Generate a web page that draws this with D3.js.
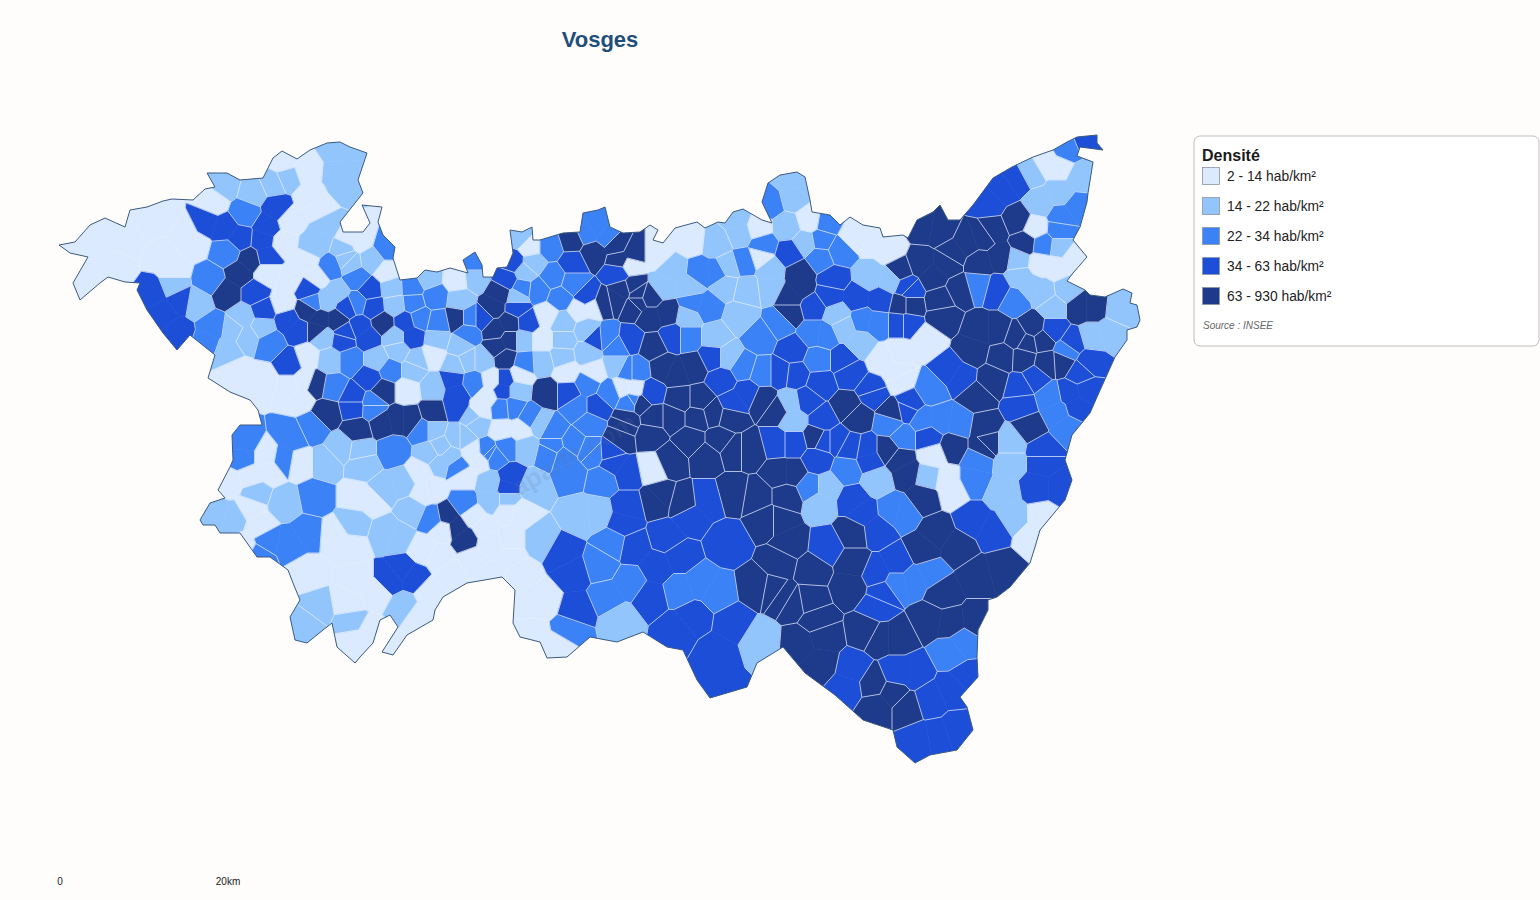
<!DOCTYPE html>
<html lang="fr">
<head>
<meta charset="utf-8">
<title>Vosges</title>
<script src="https://cdn.jsdelivr.net/npm/d3@7"></script>
<style>
  html, body { margin: 0; background: #fffdfb; }
  svg { display: block; font-family: "Liberation Sans", Arial, sans-serif; }
</style>
</head>
<body>
<svg id="map" width="1540" height="900"></svg>
<script>
const titleText = "Vosges";
const legendTitle = "Densité";
const legendLabels = ["2 - 14 hab/km²", "14 - 22 hab/km²", "22 - 34 hab/km²", "34 - 63 hab/km²", "63 - 930 hab/km²"];
const classColors = ["#dbeafe", "#93c5fd", "#3b82f6", "#1d4ed8", "#1e3a8a"];
const sourceText = "Source : INSEE";
const watermarkText = "aparte.com";
const scaleKm = [0, 20];

// department outline (map units)
const outline = [[59,245],[75,242],[90,225],[105,218],[125,227],[130,210],[147,207],[163,201],[172,199],[193,200],[205,189],[215,187],[207,173],[227,173],[240,180],[263,178],[273,158],[282,151],[297,159],[310,150],[327,143],[340,142],[350,147],[367,153],[358,180],[363,193],[340,222],[343,232],[363,232],[370,223],[362,205],[382,207],[378,222],[383,235],[395,247],[393,258],[400,280],[417,278],[425,270],[437,272],[450,268],[468,273],[463,260],[475,252],[482,265],[483,277],[493,277],[497,268],[507,267],[513,253],[510,230],[522,232],[532,227],[533,240],[540,240],[563,233],[580,232],[583,213],[598,210],[605,207],[610,227],[623,233],[640,232],[650,225],[658,230],[653,240],[663,243],[675,228],[697,222],[705,228],[718,222],[725,223],[733,212],[743,209],[762,220],[772,223],[762,202],[768,183],[780,175],[797,172],[805,177],[810,200],[812,212],[830,215],[840,225],[850,217],[863,225],[880,228],[883,237],[903,235],[908,238],[917,220],[933,212],[940,205],[948,220],[960,220],[973,205],[993,178],[1012,167],[1033,157],[1053,150],[1067,142],[1077,137],[1097,135],[1097,143],[1103,150],[1080,147],[1077,156],[1093,162],[1088,193],[1087,202],[1080,227],[1073,240],[1087,257],[1073,273],[1067,281],[1085,290],[1090,295],[1105,297],[1123,289],[1132,293],[1130,303],[1137,305],[1140,320],[1137,327],[1127,330],[1127,340],[1115,357],[1097,397],[1090,413],[1072,435],[1065,460],[1072,480],[1065,500],[1040,530],[1035,547],[1030,563],[1010,587],[997,597],[988,600],[988,610],[978,630],[977,657],[978,677],[960,697],[967,707],[973,730],[957,750],[930,755],[915,763],[897,747],[893,730],[863,720],[835,695],[805,673],[783,647],[757,663],[747,687],[710,698],[697,680],[683,650],[667,647],[643,632],[617,642],[590,637],[567,657],[547,658],[540,642],[520,637],[513,623],[515,590],[502,577],[467,583],[443,597],[435,610],[433,620],[407,635],[393,655],[382,652],[398,627],[390,615],[380,620],[373,643],[360,657],[355,663],[337,647],[332,623],[323,630],[307,643],[295,640],[290,617],[300,600],[293,583],[288,570],[270,557],[257,557],[240,533],[220,533],[215,525],[203,525],[200,520],[210,503],[225,498],[218,490],[230,467],[233,460],[232,435],[240,425],[262,425],[258,410],[250,400],[230,392],[208,378],[215,355],[190,335],[177,350],[163,333],[147,310],[137,290],[140,283],[125,282],[108,277],[100,283],[80,300],[73,283],[88,257],[70,253]];

// communes per density class: each entry lists the anchor points of one commune (x,y,x,y...)
const class0 = [[100,245,130,240],[93,273,117,267],[163,217,150,225],[193,243,185,232],[173,270,160,255],[213,202],[283,163],[267,273],[290,280,283,303],[317,277],[307,170,310,197],[290,220,317,207],[283,243,307,260],[307,357,305,380,300,398],[263,380,237,373],[290,387],[360,240,347,238],[387,272],[457,280],[530,247],[630,265],[580,310,592,307],[547,315],[407,390],[433,355],[492,380],[487,397,480,410],[520,375],[542,340],[567,372],[593,372],[623,388],[635,390],[503,430,520,430],[473,453],[267,457],[300,463],[250,477,270,470],[230,483,250,507],[260,527],[357,497,373,500],[350,547,335,535],[307,573],[357,580,377,593],[347,603],[353,640,370,633],[390,647],[417,617,430,593],[440,557,473,560],[490,543,510,557],[490,577,450,573],[443,530,483,527],[423,550],[423,493,420,473],[433,490,463,477],[480,460],[507,510,473,517],[652,468],[520,513,510,540],[530,600,543,600],[533,637,560,647],[520,573],[690,240,657,253],[758,228],[760,257],[810,220],[870,240,853,237,890,250],[883,360,897,373],[900,353,927,340],[900,380],[1060,167,1047,163],[1035,228],[1073,257,1057,267,1040,263],[933,455],[947,480,953,490],[1042,517,1033,537],[245,548]];
const class1 = [[225,185],[253,192],[273,183],[287,177],[173,285],[197,303],[243,317,247,337],[227,350,233,330],[262,327],[320,240,313,247,327,227],[338,173,337,150,343,183],[343,247,350,263],[327,300,337,293],[323,337],[330,360],[347,260],[372,260],[392,288],[395,305],[428,278],[475,278],[460,300],[520,237],[533,263],[525,272],[517,297],[395,337],[398,350],[377,360],[417,360],[437,340],[460,347],[455,365],[433,387],[413,370],[483,360],[467,360],[517,390],[523,340],[542,362],[563,323],[563,340],[587,330],[562,357],[587,353],[617,365],[540,423],[473,417],[463,437],[433,430],[440,447],[525,447],[360,450],[477,423],[342,447],[363,465],[325,463],[255,493],[285,503],[217,513,233,517],[353,523],[383,490,403,483],[413,510],[398,537,387,533],[318,608],[307,623],[350,622],[403,607],[450,457,440,463],[457,437,430,453],[490,483,492,500],[507,500],[533,487],[580,515,597,513],[540,540],[620,620],[760,640],[663,287,690,287,673,270],[717,243],[740,233,737,220],[728,267],[725,285],[747,290],[770,287,770,270],[793,197,790,180],[787,227],[805,243],[870,277,890,280],[837,315],[860,343,843,327],[688,317],[715,337],[740,317],[728,357],[790,403,793,420],[1030,173],[1060,193,1080,177,1040,203],[1060,247],[1018,260],[1030,287,1020,277,1043,293],[1067,290],[1053,307],[1120,310],[1093,337,1110,333],[1010,443],[1003,493,1010,463,1013,517],[928,477],[820,503,827,487],[877,480]];
const class2 = [[245,213],[227,252],[210,280],[213,327,207,343],[270,343],[330,267],[312,302],[333,387],[387,248],[357,278],[412,287],[413,303],[435,297],[475,262],[550,247],[597,227,587,233,607,235],[553,277],[573,283],[538,290],[522,288],[560,298],[357,303],[350,360],[390,370],[470,318],[438,322],[420,318],[468,333],[373,403],[473,383],[525,363],[607,337],[617,347],[577,407,587,383],[610,393],[627,370],[630,402],[590,423],[553,430],[530,417],[513,407],[502,408],[423,430],[487,452],[553,447],[573,443],[590,450],[393,450],[373,408],[313,427],[292,437,283,460],[243,443,242,457],[315,497],[290,543,307,533,267,540],[457,467],[463,503],[432,518],[488,453],[495,457],[507,447],[258,555],[550,453],[570,473,563,457],[593,453],[603,480],[600,565],[613,543,630,583,607,597],[570,630],[700,583,680,590,717,593],[700,273,717,273],[763,245],[745,262],[770,203],[827,223],[822,240],[820,258],[840,250],[863,320,877,323],[707,307,693,303],[688,337],[760,337],[780,323],[813,333,825,335],[818,360],[743,367],[762,373],[633,400],[637,370],[890,423],[1067,150],[1062,217,1077,207],[1060,230],[1043,245],[1015,300],[978,285],[1067,350],[1057,413,1050,397,1067,427],[930,390],[940,420,923,420,960,423],[903,437],[973,480,977,460],[952,652,963,643],[913,580,930,573,897,583],[810,487],[847,470],[903,512,893,510]];
const class3 = [[205,222,225,228,240,238],[267,227,277,208,263,240,267,256],[163,313,153,293,178,333,180,300],[255,293],[263,310],[288,320,298,330],[290,363],[308,290],[343,340],[370,290],[507,280],[513,262],[573,263],[618,273],[587,297],[517,308],[527,322],[482,318],[405,322,412,337],[360,327,368,337],[347,307,345,333],[373,307],[370,378],[353,397],[505,380,503,390],[457,393,453,380,457,407],[595,338],[630,340],[568,393],[597,407],[510,477,507,487],[613,463,627,473],[610,452],[353,407],[403,570,390,580,413,577],[573,573,563,553,577,610],[657,567,633,547,650,597,680,557],[690,517,707,500,667,537],[727,543],[677,630,693,617],[717,653,733,623,717,683],[627,507,623,523],[790,253],[833,280],[857,298,830,295,880,300],[813,307],[907,287],[900,323],[673,337],[713,357],[793,350],[843,360],[780,373],[796,375],[820,383],[850,373],[872,390],[650,393],[722,380],[733,403,747,393],[807,400],[823,420],[873,393],[907,410],[1003,190,990,203,1017,180],[1087,142],[997,290],[1053,330],[1072,343],[1090,362],[1080,373],[1020,387],[1035,378],[1070,393,1087,390,1077,407],[1022,405],[910,290],[907,323],[950,370,960,377],[910,403],[928,437],[1043,450],[1043,463,1037,487,1060,487],[993,530,973,520],[953,690,967,677,930,700],[937,737,920,740,957,730],[913,673,897,673],[853,670,847,687],[897,563,877,573],[883,593],[877,607],[827,547],[863,513,877,530,853,500],[817,460],[867,450,870,460],[850,447],[837,440],[823,440],[793,443],[777,443]];
const class4 = [[240,273,250,260,227,293],[320,320,307,310,337,320,317,330],[316,384],[383,390],[572,240],[593,253,617,245],[620,260,633,253],[603,303],[623,290,617,300],[633,307,637,293],[493,307,500,293],[495,330,510,323],[497,347,510,340],[505,358],[457,318],[383,323],[547,393],[397,420,383,423,410,420],[433,413],[357,430],[627,420],[620,438],[327,413],[447,515,457,528,465,538],[660,497,657,500],[683,503],[757,587],[773,590],[767,520],[707,457],[733,450],[733,493],[757,497],[800,287,800,273,790,297],[900,270],[902,305],[790,313],[653,347],[677,373,663,367,693,367],[700,400],[680,400],[763,400],[777,410],[847,407],[857,417],[893,413],[713,413],[730,417],[697,417],[673,417],[653,417],[640,403],[633,287],[650,317,637,303,667,313],[650,297],[940,230,923,227],[967,243,983,237,953,253],[993,230,1000,257,980,263],[1017,220],[1025,243],[960,290],[1080,307,1093,307],[1033,327],[1017,337],[1027,343],[1043,340],[1003,357],[1023,358],[1047,363],[1062,362],[993,380],[980,330,997,330,973,350],[943,317],[940,300],[910,305],[933,277,920,263,947,263],[887,450],[953,447],[983,427,983,447],[977,397],[1030,427],[987,443],[907,473,900,460,923,497],[937,533,923,550,957,547],[977,577,1003,570,943,593],[950,623,930,620,977,620],[907,707],[877,707,893,693],[873,683],[820,663,800,643,823,637],[880,637,897,637],[867,630],[817,620],[810,600],[853,563,850,587],[812,570],[793,603],[783,597,780,563],[790,543,780,520],[853,533],[787,497],[817,437],[793,473,780,473],[720,440],[750,450],[690,440],[670,460],[650,435],[625,425]];
const communesByClass = [class0, class1, class2, class3, class4];

const width = 1540, height = 900;
const svg = d3.select("#map");

// map units sit on a 1:1 grid with the page; 20 km measures 168 units
const x = d3.scaleLinear().domain([0, 1540]).range([0, width]);
const y = d3.scaleLinear().domain([0, 900]).range([0, height]);
const km = d3.scaleLinear().domain(scaleKm).range([60, 228]);

// flatten communes into anchor points
const anchors = [];
let communeId = 0;
communesByClass.forEach((communes, cls) => {
  communes.forEach((coords) => {
    for (let i = 0; i < coords.length; i += 2) {
      anchors.push({ x: coords[i], y: coords[i + 1], cls, commune: communeId });
    }
    communeId++;
  });
});

const delaunay = d3.Delaunay.from(anchors, (d) => x(d.x), (d) => y(d.y));
const voronoi = delaunay.voronoi([0, 0, width, height]);

const outlineLine = d3.line()
  .x((d) => x(d[0]))
  .y((d) => y(d[1]))
  .curve(d3.curveLinearClosed);

svg.append("defs").append("clipPath").attr("id", "dept")
  .append("path").attr("d", outlineLine(outline));

const mapG = svg.append("g").attr("clip-path", "url(#dept)");

// cells
mapG.selectAll("path.cell")
  .data(anchors)
  .join("path")
  .attr("class", "cell")
  .attr("d", (d, i) => voronoi.renderCell(i))
  .attr("fill", (d) => classColors[d.cls])
  .attr("stroke", (d) => classColors[d.cls])
  .attr("stroke-width", 0.6);

// borders only between different communes
const { halfedges, triangles } = delaunay;
const { circumcenters } = voronoi;
let borderPath = "";
for (let i = 0; i < halfedges.length; i++) {
  const j = halfedges[i];
  if (j < i) continue;
  if (anchors[triangles[i]].commune === anchors[triangles[j]].commune) continue;
  const ti = Math.floor(i / 3) * 2, tj = Math.floor(j / 3) * 2;
  borderPath += `M${circumcenters[ti]},${circumcenters[ti + 1]}L${circumcenters[tj]},${circumcenters[tj + 1]}`;
}
mapG.append("path")
  .attr("d", borderPath)
  .attr("fill", "none")
  .attr("stroke", "#e6efff")
  .attr("stroke-width", 0.8)
  .attr("stroke-opacity", 0.9);

svg.append("path")
  .attr("d", outlineLine(outline))
  .attr("fill", "none")
  .attr("stroke", "#3a5a80")
  .attr("stroke-width", 1);

// faint watermark over the map
svg.append("text")
  .attr("transform", "translate(518,497) rotate(-30)")
  .attr("font-size", 26).attr("font-weight", "bold")
  .attr("fill", "#64748b").attr("fill-opacity", 0.16)
  .text(watermarkText);

// title
svg.append("text")
  .attr("x", 600).attr("y", 47)
  .attr("text-anchor", "middle")
  .attr("font-size", 22).attr("font-weight", "bold")
  .attr("fill", "#1f4e79")
  .text(titleText);

// legend
const legend = svg.append("g");
legend.append("rect")
  .attr("x", 1194).attr("y", 136).attr("width", 345).attr("height", 210).attr("rx", 6)
  .attr("fill", "#ffffff").attr("stroke", "#bdbdbd").attr("stroke-width", 1);
legend.append("text")
  .attr("x", 1202).attr("y", 161)
  .attr("font-size", 16).attr("font-weight", "bold").attr("fill", "#1a1a1a")
  .text(legendTitle);

const legendY = d3.scalePoint().domain(legendLabels).range([176, 296]);
const rows = legend.selectAll("g.row").data(legendLabels).join("g").attr("class", "row")
  .attr("transform", (d) => `translate(0,${legendY(d)})`);
rows.append("rect")
  .attr("x", 1202.5).attr("y", -8.5).attr("width", 17).attr("height", 17)
  .attr("fill", (d, i) => classColors[i])
  .attr("stroke", "#8a94a6").attr("stroke-width", 0.8);
rows.append("text")
  .attr("x", 1227).attr("y", 5)
  .attr("font-size", 13.8).attr("fill", "#222")
  .text((d) => d);

legend.append("text")
  .attr("x", 1203).attr("y", 329)
  .attr("font-size", 10).attr("font-style", "italic").attr("fill", "#666")
  .text(sourceText);

// scale labels
svg.selectAll("text.km")
  .data(scaleKm)
  .join("text")
  .attr("class", "km")
  .attr("x", (d) => km(d))
  .attr("y", 885)
  .attr("text-anchor", "middle")
  .attr("font-size", 10)
  .attr("fill", "#222")
  .text((d) => (d === 0 ? "0" : d + "km"));
</script>
</body>
</html>
